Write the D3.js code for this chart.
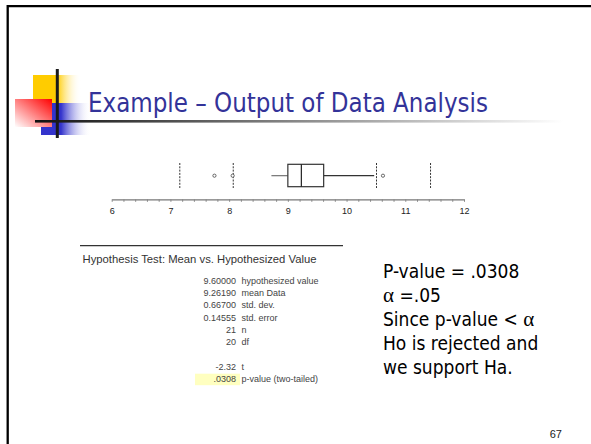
<!DOCTYPE html>
<html>
<head>
<meta charset="utf-8">
<script src="https://cdn.jsdelivr.net/npm/d3@7"></script>
<style>
html,body{margin:0;padding:0;background:#fff;}
svg{display:block;}
</style>
</head>
<body>
<svg id="c" width="591" height="444"></svg>
<script>
// ---- data ----
const titleText = "Example \u2013 Output of Data Analysis";
const axisDomain = [6, 12];
const tickLabels = [6, 7, 8, 9, 10, 11, 12];
const minorStep = 0.2;
const boxQ1 = 9.0, boxMedian = 9.23, boxQ3 = 9.61;
const whiskerLow = 8.72, whiskerHigh = 10.47;
const outliers = [7.75, 8.06, 10.62];
const fences = [7.16, 8.07, 10.51, 11.43];
const tableTitle = "Hypothesis Test: Mean vs. Hypothesized Value";
const tableValues = ["9.60000", "9.26190", "0.66700", "0.14555", "21", "20", "", "-2.32", ".0308"];
const tableLabels = ["hypothesized value", "mean Data", "std. dev.", "std. error", "n", "df", "", "t", "p-value (two-tailed)"];
const highlightRow = 8;
const sideLines = [
  [{t:"P-value = .0308"}],
  [{t:"\u03b1", g:true}, {t:" =.05"}],
  [{t:"Since p-value < "}, {t:"\u03b1", g:true}],
  [{t:"Ho is rejected and"}],
  [{t:"we support Ha."}]
];
const pageNumber = "67";

// ---- drawing ----
const svg = d3.select("#c");
const defs = svg.append("defs");

function hGrad(id, stops) {
  const g = defs.append("linearGradient").attr("id", id).attr("x1", "0%").attr("x2", "100%").attr("y1", "0%").attr("y2", "0%");
  stops.forEach(s => g.append("stop").attr("offset", s[0]).attr("stop-color", s[1]).attr("stop-opacity", s[2] == null ? 1 : s[2]));
}
hGrad("gYellow", [["0%", "#ffcc00"], ["50%", "#ffcc00"], ["100%", "#ffffff", 0]]);
hGrad("gBlue", [["0%", "#3333cc"], ["40%", "#3333cc"], ["100%", "#ffffff", 0]]);
hGrad("gLine", [["0%", "#111111"], ["40%", "#777777"], ["95%", "#ffffff"]]);
const rg = defs.append("linearGradient").attr("id", "gRed").attr("x1", "100%").attr("y1", "0%").attr("x2", "0%").attr("y2", "100%");
rg.append("stop").attr("offset", "0%").attr("stop-color", "#ff0000");
rg.append("stop").attr("offset", "100%").attr("stop-color", "#ffffff");

// slide frame
svg.append("path").attr("d", "M7.7,444V6.2H591").attr("fill", "none").attr("stroke", "#000").attr("stroke-width", 2.3);

// title decoration
svg.append("rect").attr("x", 33).attr("y", 75).attr("width", 48).attr("height", 28).attr("fill", "url(#gYellow)");
svg.append("rect").attr("x", 41).attr("y", 103).attr("width", 50).attr("height", 32).attr("fill", "url(#gBlue)");
svg.append("rect").attr("x", 15).attr("y", 99).attr("width", 37).attr("height", 28).attr("fill", "url(#gRed)");
svg.append("rect").attr("x", 35).attr("y", 120).attr("width", 556).attr("height", 2.6).attr("fill", "url(#gLine)");
svg.append("rect").attr("x", 55.8).attr("y", 69).attr("width", 3).attr("height", 69).attr("fill", "#1a1a1a");

svg.append("text").attr("x", 88).attr("y", 112)
  .attr("font-family", "'DejaVu Sans Condensed', 'DejaVu Sans', sans-serif")
  .attr("font-size", 26).attr("fill", "#333399")
  .attr("textLength", 400).attr("lengthAdjust", "spacingAndGlyphs")
  .text(titleText);

// box plot
const x = d3.scaleLinear().domain(axisDomain).range([111.7, 464]);
const axisY = 199.3;
const allTicks = d3.range(Math.round((axisDomain[1] - axisDomain[0]) / minorStep) + 1).map(i => axisDomain[0] + i * minorStep);
const ax = svg.append("g").attr("transform", `translate(0,${axisY})`)
  .call(d3.axisBottom(x).tickValues(allTicks).tickSize(2.5).tickSizeOuter(0)
    .tickFormat(d => tickLabels.some(t => Math.abs(t - d) < 1e-6) ? d3.format("d")(Math.round(d)) : ""));
ax.select(".domain").attr("stroke", "#777").attr("stroke-width", 1.2);
ax.selectAll(".tick line").attr("stroke", "#888");
ax.selectAll(".tick text").attr("font-family", "'Liberation Sans', Arial, sans-serif").attr("font-size", 9).attr("fill", "#222").attr("dy", "0.9em").attr("y", 7);

const midY = 175.7, boxTop = 164.3, boxBot = 186.7;
const bp = svg.append("g");
fences.forEach(f => {
  bp.append("line").attr("x1", x(f)).attr("x2", x(f)).attr("y1", 163).attr("y2", 188)
    .attr("stroke", "#333").attr("stroke-width", 1).attr("stroke-dasharray", "2,1.3");
});
bp.append("line").attr("x1", x(whiskerLow)).attr("x2", x(boxQ1)).attr("y1", midY).attr("y2", midY).attr("stroke", "#666").attr("stroke-width", 1.1);
bp.append("line").attr("x1", x(boxQ3)).attr("x2", x(whiskerHigh)).attr("y1", midY).attr("y2", midY).attr("stroke", "#333").attr("stroke-width", 1.2);
bp.append("rect").attr("x", x(boxQ1)).attr("y", boxTop).attr("width", x(boxQ3) - x(boxQ1)).attr("height", boxBot - boxTop)
  .attr("fill", "#fff").attr("stroke", "#333").attr("stroke-width", 1.2);
bp.append("line").attr("x1", x(boxMedian)).attr("x2", x(boxMedian)).attr("y1", boxTop).attr("y2", boxBot).attr("stroke", "#222").attr("stroke-width", 1.2);
bp.selectAll("circle").data(outliers).join("circle").attr("cx", d => x(d)).attr("cy", midY).attr("r", 1.6)
  .attr("fill", "#fff").attr("stroke", "#444").attr("stroke-width", 0.8);

// table
const tf = "'Liberation Sans', Arial, sans-serif";
svg.append("line").attr("x1", 80).attr("x2", 343).attr("y1", 245.7).attr("y2", 245.7).attr("stroke", "#333").attr("stroke-width", 1.3);
svg.append("text").attr("x", 82.5).attr("y", 263).attr("font-family", tf).attr("font-size", 11.3).attr("fill", "#333")
  .attr("textLength", 234).attr("lengthAdjust", "spacingAndGlyphs").text(tableTitle);
const rowY = d3.scaleLinear().domain([0, tableValues.length - 1]).range([283.8, 382.4]);
svg.append("rect").attr("x", 195).attr("y", rowY(highlightRow) - 8.7).attr("width", 45).attr("height", 11.5).attr("fill", "#ffffc0");
const rows = svg.append("g").attr("font-family", tf).attr("font-size", 9).attr("fill", "#444");
tableValues.forEach((v, i) => {
  if (!v) return;
  rows.append("text").attr("x", 236).attr("y", rowY(i)).attr("text-anchor", "end").text(v);
  rows.append("text").attr("x", 241.5).attr("y", rowY(i)).text(tableLabels[i]);
});

// side text
const sf = "'DejaVu Sans Condensed', 'DejaVu Sans', sans-serif";
sideLines.forEach((line, i) => {
  const t = svg.append("text").attr("x", 383).attr("y", 278 + i * 24).attr("font-family", sf).attr("font-size", 19).attr("fill", "#000").attr("xml:space", "preserve");
  line.forEach(seg => {
    const s = t.append("tspan").text(seg.t);
    if (seg.g) s.attr("font-family", "'Liberation Serif', 'Times New Roman', serif").attr("font-size", 21);
  });
});

svg.append("text").attr("x", 562).attr("y", 438).attr("text-anchor", "end").attr("font-family", tf).attr("font-size", 11).attr("fill", "#222").text(pageNumber);
</script>
</body>
</html>
